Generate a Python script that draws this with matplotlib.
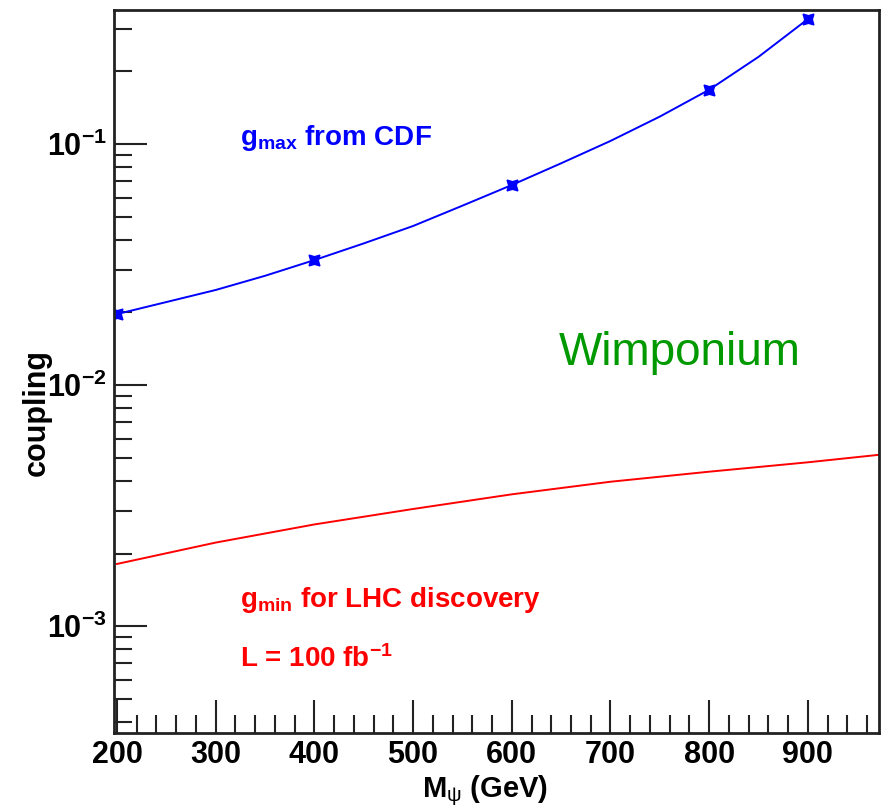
import matplotlib
matplotlib.use("Agg")
import matplotlib.pyplot as plt
from matplotlib.ticker import FixedLocator, MultipleLocator, LogLocator, NullFormatter

plt.rcParams['font.family'] = ['Liberation Sans', 'DejaVu Sans']
plt.rcParams['mathtext.fontset'] = 'custom'
plt.rcParams['mathtext.rm'] = 'Liberation Sans'
plt.rcParams['mathtext.bf'] = 'Liberation Sans:bold'
plt.rcParams['mathtext.it'] = 'Liberation Sans:italic'

# g_max from CDF (markers)
mass_cdf = [200, 400, 600, 800, 900]
gmax_cdf = [0.0197, 0.033, 0.0676, 0.168, 0.33]
# smooth curve through them
mass_curve = [200, 250, 300, 350, 400, 450, 500, 550, 600, 650, 700, 750, 800, 850, 900]
gmax_curve = [0.0197, 0.0221, 0.0248, 0.0284, 0.033, 0.0387, 0.0457, 0.0555, 0.0676,
              0.0832, 0.103, 0.130, 0.168, 0.230, 0.33]
# g_min for LHC discovery
mass_lhc = [200, 300, 400, 500, 600, 700, 800, 900, 975]
gmin_lhc = [0.00181, 0.00222, 0.00264, 0.00306, 0.00352, 0.00397, 0.00437, 0.00478, 0.00515]

xticks = [200, 300, 400, 500, 600, 700, 800, 900]
yticks = [1e-3, 1e-2, 1e-1]
ylabels = [r'$\mathbf{10^{-3}}$', r'$\mathbf{10^{-2}}$', r'$\mathbf{10^{-1}}$']

fig = plt.figure(figsize=(8.86, 8.11), dpi=100)
ax = fig.add_axes([0.1287, 0.0962, 0.8633, 0.8915])

ax.plot(mass_curve, gmax_curve, color='#0000ff', lw=1.4)
ax.plot(mass_cdf, gmax_cdf, ls='none', marker=(4, 1, 45), ms=11, color='#0000ff')
ax.plot(mass_lhc, gmin_lhc, color='#ff0000', lw=1.4)

ax.set_yscale('log')
ax.set_xlim(197, 972)
ax.set_ylim(3.6e-4, 0.36)

ax.xaxis.set_major_locator(FixedLocator(xticks))
ax.xaxis.set_minor_locator(MultipleLocator(20))
ax.set_xticklabels([str(v) for v in xticks])
ax.yaxis.set_major_locator(FixedLocator(yticks))
ax.set_yticklabels(ylabels)
ax.yaxis.set_minor_locator(LogLocator(base=10, subs=range(2, 10)))
ax.yaxis.set_minor_formatter(NullFormatter())

ax.tick_params(which='both', direction='in', top=False, right=False, width=1.5, color='#222222')
ax.tick_params(which='major', length=24, labelsize=22, pad=5)
ax.tick_params(which='minor', length=13)
for lab in ax.get_xticklabels():
    lab.set_fontweight('bold')
for s in ax.spines.values():
    s.set_linewidth(2)
    s.set_color('#222222')

ax.set_ylabel('coupling', fontsize=22, fontweight='bold')
ax.yaxis.set_label_coords(-0.082, 0.443)
ax.set_xlabel(r'$\mathbf{M}_{\mathrm{ψ}}$ (GeV)', fontsize=21, fontweight='bold')
ax.xaxis.set_label_coords(0.485, -0.056)

ax.text(325, 0.099, r'$\mathbf{g_{max}}$ from CDF', color='#0000ff', fontsize=20, fontweight='bold', va='baseline')
ax.text(325, 0.0012, r'$\mathbf{g_{min}}$ for LHC discovery', color='#ff0000', fontsize=20, fontweight='bold', va='baseline')
ax.text(325, 6.76e-4, r'L = 100 fb$^{\mathbf{-1}}$', color='#ff0000', fontsize=20, fontweight='bold', va='baseline')
ax.text(770, 0.0136, 'Wimponium', color='#009900', fontsize=33, ha='center', va='center')

fig.savefig('out.png', dpi=100)
